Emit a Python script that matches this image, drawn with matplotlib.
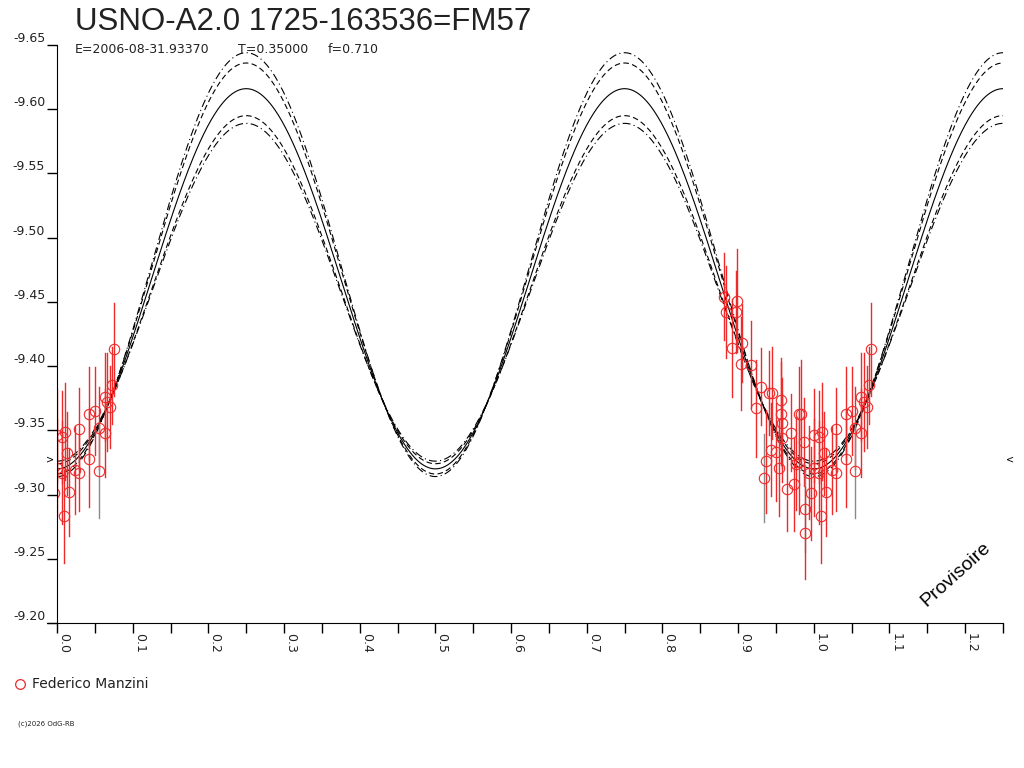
import numpy as np
import matplotlib
matplotlib.use('Agg')
import matplotlib.pyplot as plt
from matplotlib.ticker import MultipleLocator

# observations: phase, magnitude, error (phase folded, repeated at phase-1)
phase = [0.881, 0.898, 0.884, 0.897, 0.892, 0.905, 0.904, 0.917, 0.930, 0.941,
         0.945, 0.924, 0.957, 0.957, 0.980, 0.983, 0.958, 0.970, 0.943, 0.937,
         0.934, 0.954, 0.964, 0.974, 0.980, 0.987, 1.000, 1.011, 1.029, 0.996,
         0.988, 0.989, 1.009, 1.016, 1.000, 1.013, 1.029, 1.042, 1.050, 1.055,
         1.042, 1.055, 1.063, 1.066, 1.070, 1.073, 1.075, 1.063, 0.976, 0.958,
         0.950, 0.993, 1.007, 1.024, 1.007]
mag = [-9.454, -9.451, -9.442, -9.442, -9.414, -9.418, -9.402, -9.401, -9.384, -9.379,
       -9.379, -9.367, -9.374, -9.363, -9.363, -9.363, -9.356, -9.348, -9.335, -9.326,
       -9.313, -9.321, -9.304, -9.308, -9.325, -9.341, -9.346, -9.349, -9.351, -9.301,
       -9.289, -9.270, -9.283, -9.302, -9.321, -9.332, -9.317, -9.363, -9.365, -9.352,
       -9.328, -9.318, -9.348, -9.372, -9.368, -9.385, -9.413, -9.376, -9.324, -9.344,
       -9.333, -9.317, -9.317, -9.319, -9.345]
err = [0.034, 0.040, 0.036, 0.032, 0.038, 0.030, 0.036, 0.034, 0.030, 0.033,
       0.036, 0.038, 0.032, 0.040, 0.036, 0.042, 0.035, 0.030, 0.036, 0.040,
       0.034, 0.038, 0.032, 0.036, 0.040, 0.034, 0.036, 0.038, 0.032, 0.036,
       0.034, 0.036, 0.036, 0.034, 0.038, 0.032, 0.030, 0.036, 0.034, 0.032,
       0.038, 0.036, 0.034, 0.038, 0.032, 0.030, 0.036, 0.034, 0.036, 0.034,
       0.038, 0.036, 0.040, 0.034, 0.036]
grey_idx = [20, 30, 41]

# model curves: mean mag, semi-amplitude (double wave), line style
curve_mean = [-9.468, -9.476, -9.4595, -9.479, -9.4575]
curve_amp = [0.148, 0.160, 0.1355, 0.165, 0.1315]
curve_style = ['-', (0, (5, 3)), (0, (5, 3)), (0, (7, 3, 1, 3)), (0, (7, 3, 1, 3))]

mark_level = -9.327

fig = plt.figure(figsize=(10.24, 7.68), dpi=100)
ax = fig.add_axes([57 / 1024, 145 / 768, 946 / 1024, 578 / 768])

ph_grid = np.linspace(0, 1.25, 800)
for m0, a, ls in zip(curve_mean, curve_amp, curve_style):
    ax.plot(ph_grid, m0 + a * np.cos(4 * np.pi * ph_grid), color='black', lw=0.8, ls=ls)

red = '#ee2a2a'
for shift in [0.0, -1.0]:
    for i in range(len(phase)):
        x = phase[i] + shift
        c = '#8a8a8a' if i in grey_idx else red
        ax.plot([x, x], [mag[i] - err[i], mag[i] + err[i]], color=c, lw=1.0)
    ax.plot(np.array(phase) + shift, mag, 'o', mfc='none', mec=red, ms=7.5, mew=0.8)

ax.set_xlim(0, 1.25)
ax.set_ylim(-9.20, -9.65)
ax.spines['top'].set_visible(False)
ax.spines['right'].set_visible(False)
ax.spines['bottom'].set_bounds(-0.013, 1.25)

ax.xaxis.set_major_locator(MultipleLocator(0.1))
ax.xaxis.set_minor_locator(MultipleLocator(0.05))
ax.yaxis.set_major_locator(MultipleLocator(0.05))
ax.tick_params(axis='x', which='both', direction='out', length=7, width=1, pad=0,
               labelsize=9)
ax.tick_params(axis='y', direction='out', length=7.5, width=1, pad=1, labelsize=9)
ax.set_xticks(np.arange(0, 1.21, 0.1))
ax.set_xticklabels(['%.1f' % v for v in np.arange(0, 1.21, 0.1)], rotation=-90,
                   ha='left', va='top')
ax.set_yticks(np.arange(-9.65, -9.199, 0.05))
ax.set_yticklabels(['%.2f' % v for v in np.arange(-9.65, -9.199, 0.05)])
for lab in ax.get_yticklabels():
    lab.set_va('bottom')
for lab in ax.get_xticklabels() + ax.get_yticklabels():
    lab.set_color('#222222')

ax.text(-0.004, mark_level, '>', ha='right', va='center', fontsize=7, clip_on=False)
ax.text(1.254, mark_level, '<', ha='left', va='center', fontsize=7, clip_on=False)

ax.text(1.188, -9.238, 'Provisoire', rotation=42, ha='center', va='center',
        fontsize=14, family='Liberation Sans')

fig.text(75 / 1024, 1 - 30 / 768, 'USNO-A2.0 1725-163536=FM57', fontsize=22.5,
         family='Liberation Sans', color='#222222', va='baseline')
fig.text(75 / 1024, 1 - 53 / 768, 'E=2006-08-31.93370', fontsize=9, color='#222222',
         va='baseline')
fig.text(238 / 1024, 1 - 53 / 768, 'T=0.35000', fontsize=9, color='#222222',
         va='baseline')
fig.text(328 / 1024, 1 - 53 / 768, 'f=0.710', fontsize=9, color='#222222',
         va='baseline')

fig.lines.append(plt.Line2D([20 / 1024], [1 - 684 / 768], marker='o', mfc='none',
                            mec=red, ms=7, mew=0.9, transform=fig.transFigure))
fig.text(32 / 1024, 1 - 684 / 768, 'Federico Manzini', fontsize=10, color='#222222',
         va='center')
fig.text(18 / 1024, 1 - 724 / 768, '(c)2026 OdG-RB', fontsize=5, color='#222222',
         va='center')

fig.savefig('out.png', dpi=100)
